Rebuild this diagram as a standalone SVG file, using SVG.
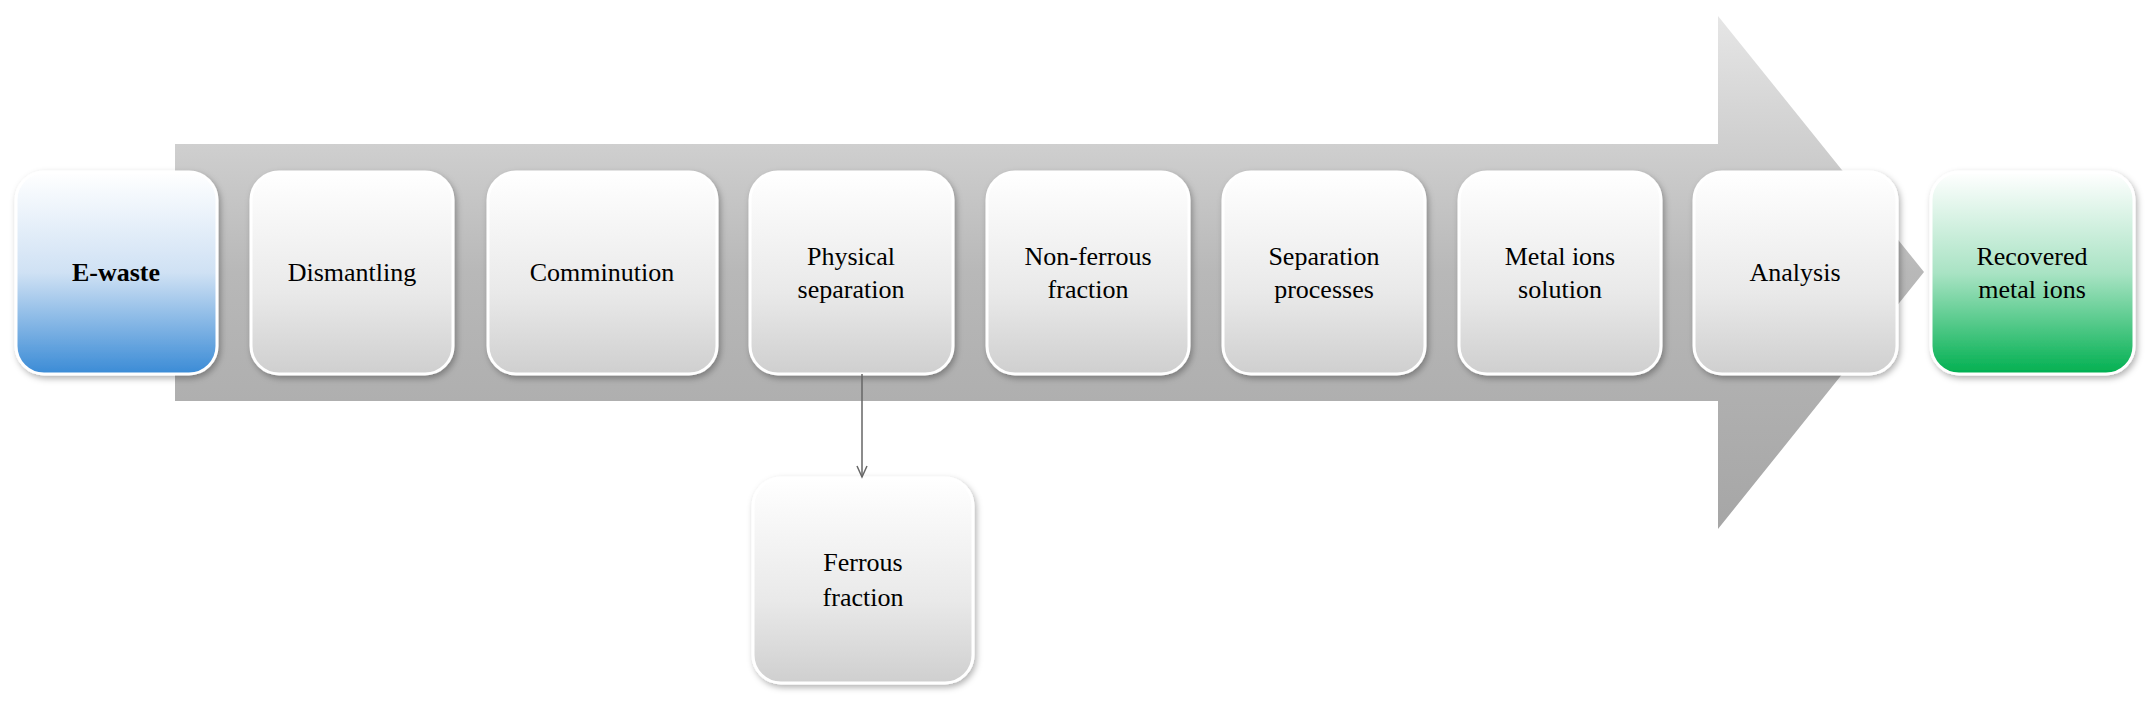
<svg xmlns="http://www.w3.org/2000/svg" width="2155" height="706" viewBox="0 0 2155 706">
<defs>
<linearGradient id="arr" x1="0" y1="0" x2="0" y2="1"><stop offset="0" stop-color="#e6e6e6"/><stop offset="0.5" stop-color="#b8b8b8"/><stop offset="1" stop-color="#a6a6a6"/></linearGradient>
<linearGradient id="g" x1="0" y1="0" x2="0" y2="1"><stop offset="0" stop-color="#ffffff"/><stop offset="0.6" stop-color="#e9e9e9"/><stop offset="1" stop-color="#cfcfcf"/></linearGradient>
<linearGradient id="b" x1="0" y1="0" x2="0" y2="1"><stop offset="0" stop-color="#ffffff"/><stop offset="0.5" stop-color="#cfe1f4"/><stop offset="1" stop-color="#3a8bd6"/></linearGradient>
<linearGradient id="gr" x1="0" y1="0" x2="0" y2="1"><stop offset="0" stop-color="#ffffff"/><stop offset="0.5" stop-color="#a9e3c4"/><stop offset="1" stop-color="#00b050"/></linearGradient>
<marker id="m" markerWidth="14" markerHeight="12" refX="12" refY="6" orient="auto" markerUnits="userSpaceOnUse"><path d="M1,1 L12,6 L1,11" fill="none" stroke="#666" stroke-width="1.5"/></marker>
<filter id="s" x="-10%" y="-10%" width="125%" height="125%"><feDropShadow dx="2" dy="3" stdDeviation="3" flood-color="#000" flood-opacity="0.3"/></filter>
</defs>
<style>
.n rect{stroke:#fff;stroke-width:3;filter:url(#s)}
text{font-family:"Liberation Serif",serif;font-size:26px;fill:#000;text-anchor:middle}
</style>
<path d="M175,144 L1718,144 L1718,16 L1924,272 L1718,529 L1718,401 L175,401 Z" fill="url(#arr)"/>
<g id="n1" class="n"><rect x="16" y="172" width="201" height="202" rx="28" fill="url(#b)"/><text x="116" y="281" font-weight="bold">E-waste</text></g>
<g id="n2" class="n"><rect x="251" y="172" width="202" height="202" rx="28" fill="url(#g)"/><text x="352" y="281">Dismantling</text></g>
<g id="n3" class="n"><rect x="488" y="172" width="229" height="202" rx="28" fill="url(#g)"/><text x="602" y="281">Comminution</text></g>
<g id="n4" class="n"><rect x="750" y="172" width="203" height="202" rx="28" fill="url(#g)"/><text x="851" y="265">Physical</text><text x="851" y="298">separation</text></g>
<g id="n5" class="n"><rect x="987" y="172" width="202" height="202" rx="28" fill="url(#g)"/><text x="1088" y="265">Non-ferrous</text><text x="1088" y="298">fraction</text></g>
<g id="n6" class="n"><rect x="1223" y="172" width="202" height="202" rx="28" fill="url(#g)"/><text x="1324" y="265">Separation</text><text x="1324" y="298">processes</text></g>
<g id="n7" class="n"><rect x="1459" y="172" width="202" height="202" rx="28" fill="url(#g)"/><text x="1560" y="265">Metal ions</text><text x="1560" y="298">solution</text></g>
<g id="n8" class="n"><rect x="1694" y="172" width="203" height="202" rx="28" fill="url(#g)"/><text x="1795" y="281">Analysis</text></g>
<g id="n9" class="n"><rect x="1931" y="172" width="203" height="202" rx="28" fill="url(#gr)"/><text x="2032" y="265">Recovered</text><text x="2032" y="298">metal ions</text></g>
<g id="n10" class="n"><rect x="753" y="478" width="220" height="205" rx="28" fill="url(#g)"/><text x="863" y="571">Ferrous</text><text x="863" y="606">fraction</text></g>
<g id="connectors"><line x1="862" y1="374" x2="862" y2="477" stroke="#666" stroke-width="1.5" marker-end="url(#m)"/></g>
</svg>
